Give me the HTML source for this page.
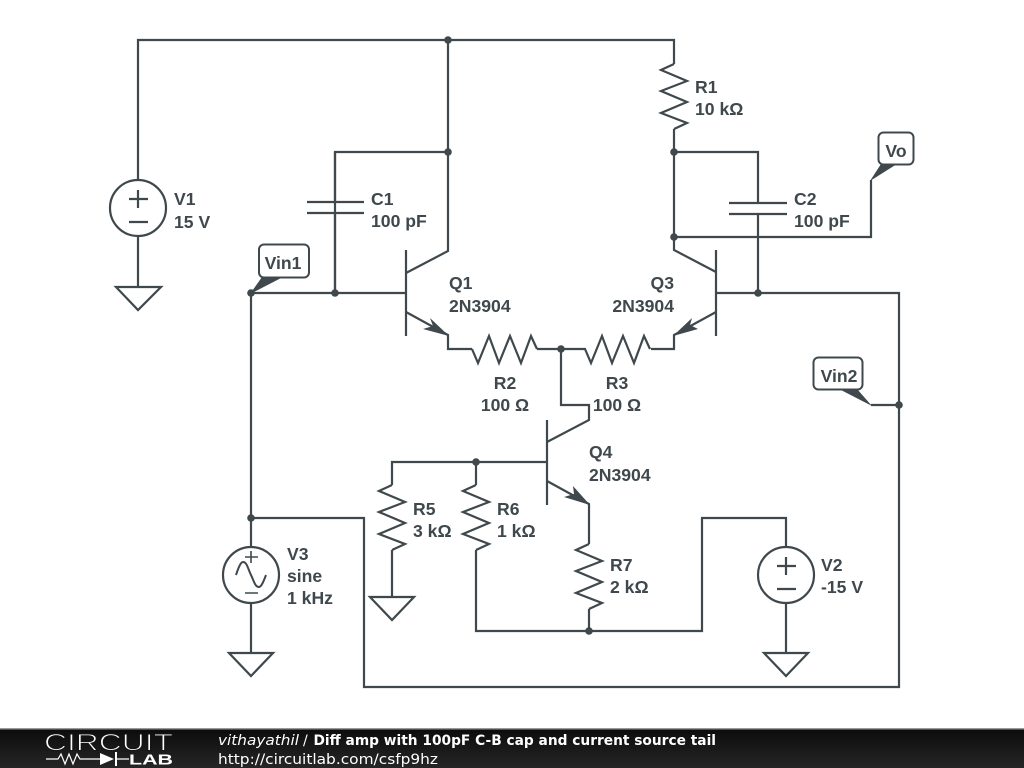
<!DOCTYPE html>
<html>
<head>
<meta charset="utf-8">
<style>
html,body{margin:0;padding:0;background:#fff;width:1024px;height:768px;overflow:hidden}
svg{display:block}
.w{fill:none;stroke:#3f484c;stroke-width:2.2;stroke-linejoin:miter}
.d{fill:#3f484c}
.t{font-family:"Liberation Sans",sans-serif;font-weight:bold;font-size:17.6px;fill:#3f484c}
.f{font-family:"DejaVu Sans","Liberation Sans",sans-serif;font-size:14px;fill:#fff}
</style>
</head>
<body>
<svg width="1024" height="768" viewBox="0 0 1024 768" xmlns="http://www.w3.org/2000/svg">
<defs>
<linearGradient id="g" x1="0" y1="0" x2="0" y2="1"><stop offset="0" stop-color="#0c0c0c"/><stop offset="1" stop-color="#262626"/></linearGradient>
</defs>
<rect width="1024" height="768" fill="#fff"/>

<!-- wires -->
<path class="w" d="M138 180V40H674V64"/>
<path class="w" d="M448 40V251L406 273"/>
<path class="w" d="M335 293V152H448"/>
<path class="w" d="M335 152V202M335 213V293"/>
<path class="w" d="M251 293H406"/>
<path class="w" d="M406 250V336"/>
<path class="w" d="M406 312L448 335V349H472"/>
<path class="w" d="M537 349H586"/>
<path class="w" d="M651 349H674V335L716 312"/>
<path class="w" d="M716 250V336"/>
<path class="w" d="M674 129V237V250L716 272"/>
<path class="w" d="M674 152H758V203M758 214V293"/>
<path class="w" d="M674 237H871V180"/>
<path class="w" d="M716 293H899V687H364V518H251"/>
<path class="w" d="M251 293V547"/>
<path class="w" d="M871 405H899"/>
<path class="w" d="M561 349V405H589V420L547 442"/>
<path class="w" d="M547 420V505"/>
<path class="w" d="M547 481L589 504V544"/>
<path class="w" d="M392 485V462H547"/>
<path class="w" d="M476 462V485"/>
<path class="w" d="M392 550V597"/>
<path class="w" d="M476 550V631H702V518H786V547"/>
<path class="w" d="M589 609V631"/>
<path class="w" d="M786 603V653"/>
<path class="w" d="M251 603V653"/>
<path class="w" d="M138 236V287"/>

<!-- resistors -->
<path class="w" d="M472 349L478 363L489 336L499 363L510 336L521 363L531 336L537 349"/>
<path class="w" d="M585 349L591 363L602 336L612 363L623 336L634 363L644 336L650 349"/>
<path class="w" d="M674 64L661 70L687 81L661 91L687 102L661 113L687 123L674 129"/>
<path class="w" d="M392 485L379 491L405 502L379 512L405 523L379 534L405 544L392 550"/>
<path class="w" d="M476 485L463 491L489 502L463 512L489 523L463 534L489 544L476 550"/>
<path class="w" d="M589 544L576 550L602 561L576 571L602 582L576 593L602 603L589 609"/>

<!-- capacitors -->
<path class="w" d="M307 202H364M307 213H364"/>
<path class="w" d="M729 203H787M729 214H787"/>

<!-- sources -->
<circle class="w" cx="138" cy="208" r="28"/>
<path class="w" d="M129 199H148M138 190V208M129 222H148"/>
<circle class="w" cx="786" cy="575" r="28"/>
<path class="w" d="M777 566H796M786 557V575M777 589H796"/>
<circle class="w" cx="251" cy="575" r="28"/>
<path class="w" d="M245 557H258M251 551V563M245 593H258" style="stroke-width:1.6"/>
<path class="w" d="M236 575C239 566 241 562 243 562C247 562 248 569 251 575C254 581 255 587 259 587C261 587 263 583 266 575" style="stroke-width:2"/>

<!-- grounds -->
<path class="w" d="M116 287H161L138 310Z"/>
<path class="w" d="M370 597H414L392 620Z"/>
<path class="w" d="M229 653H273L251 676Z"/>
<path class="w" d="M764 653H808L786 676Z"/>

<!-- arrowheads -->
<path class="d" d="M449 336L430 318L433 326L423 329Z"/>
<path class="d" d="M673 336L692 318L690 325L698 329Z"/>
<path class="d" d="M590 505L573 486L574 494L564 497Z"/>

<!-- junctions -->
<g class="d">
<circle cx="448" cy="40" r="3.8"/>
<circle cx="448" cy="152" r="3.8"/>
<circle cx="674" cy="152" r="3.8"/>
<circle cx="674" cy="237" r="3.8"/>
<circle cx="251" cy="293" r="3.8"/>
<circle cx="335" cy="293" r="3.8"/>
<circle cx="758" cy="293" r="3.8"/>
<circle cx="561" cy="349" r="3.8"/>
<circle cx="899" cy="405" r="3.8"/>
<circle cx="476" cy="462" r="3.8"/>
<circle cx="251" cy="518" r="3.8"/>
<circle cx="589" cy="631" r="3.8"/>
</g>

<!-- flags -->
<rect x="259" y="244.500" width="50" height="33" rx="5" fill="#fff" stroke="#3f484c" stroke-width="2"/>
<rect x="878.500" y="132.500" width="35" height="32" rx="5" fill="#fff" stroke="#3f484c" stroke-width="2"/>
<rect x="813.500" y="357.500" width="49" height="32" rx="5" fill="#fff" stroke="#3f484c" stroke-width="2"/>
<path class="d" d="M250 294L262 277H283Z"/>
<path class="d" d="M870 181L881 164H897Z"/>
<path class="d" d="M872 406L839 389H857Z"/>

<!-- labels -->
<g class="t">
<text x="283" y="269" text-anchor="middle">Vin1</text>
<text x="896" y="157" text-anchor="middle">Vo</text>
<text x="839" y="382" text-anchor="middle">Vin2</text>
<text x="174" y="205">V1</text>
<text x="174" y="228">15 V</text>
<text x="695" y="93">R1</text>
<text x="695" y="115">10 kΩ</text>
<text x="371" y="205">C1</text>
<text x="371" y="227">100 pF</text>
<text x="794" y="205">C2</text>
<text x="794" y="227">100 pF</text>
<text x="449" y="289">Q1</text>
<text x="449" y="312">2N3904</text>
<text x="674" y="289" text-anchor="end">Q3</text>
<text x="674" y="312" text-anchor="end">2N3904</text>
<text x="505" y="389" text-anchor="middle">R2</text>
<text x="505" y="411" text-anchor="middle">100 Ω</text>
<text x="617" y="389" text-anchor="middle">R3</text>
<text x="617" y="411" text-anchor="middle">100 Ω</text>
<text x="589" y="458">Q4</text>
<text x="589" y="481">2N3904</text>
<text x="413" y="515">R5</text>
<text x="413" y="537">3 kΩ</text>
<text x="497" y="515">R6</text>
<text x="497" y="537">1 kΩ</text>
<text x="610" y="571">R7</text>
<text x="610" y="593">2 kΩ</text>
<text x="287" y="560">V3</text>
<text x="287" y="582">sine</text>
<text x="287" y="604">1 kHz</text>
<text x="821" y="571">V2</text>
<text x="821" y="593">-15 V</text>
</g>

<!-- footer -->
<rect x="0" y="728" width="1024" height="1.500" fill="#999"/>
<rect x="0" y="729.500" width="1024" height="38.500" fill="url(#g)"/>
<text x="44" y="750.500" font-family="Liberation Sans, sans-serif" font-size="24" fill="#fff" stroke="#161616" stroke-width="1" textLength="129" lengthAdjust="spacingAndGlyphs">CIRCUIT</text>
<text x="129" y="764.500" font-family="Liberation Sans, sans-serif" font-size="14.500" font-weight="bold" fill="#fff" textLength="44" lengthAdjust="spacingAndGlyphs">LAB</text>
<path d="M46 759H58L61 754L65 764L69 754L73 764L77 754L80 759H100M117 759H129" fill="none" stroke="#fff" stroke-width="1.200"/>
<path d="M100 753L114 759L100 765Z" fill="#fff"/>
<path d="M116 752V766" stroke="#fff" stroke-width="2"/>
<text class="f" x="218" y="745" font-style="italic" textLength="81" lengthAdjust="spacingAndGlyphs">vithayathil</text>
<text class="f" x="303" y="745">/</text>
<text class="f" x="313.500" y="745" font-weight="bold" textLength="402.500" lengthAdjust="spacingAndGlyphs">Diff amp with 100pF C-B cap and current source tail</text>
<text class="f" x="218" y="764" textLength="220" lengthAdjust="spacingAndGlyphs">http://circuitlab.com/csfp9hz</text>
</svg>
</body>
</html>
